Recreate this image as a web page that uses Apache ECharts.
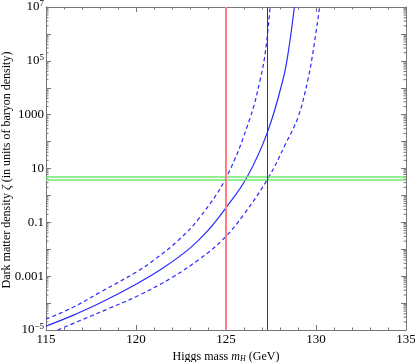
<!DOCTYPE html>
<html>
<head>
<meta charset="utf-8">
<script src="https://cdn.jsdelivr.net/npm/echarts/dist/echarts.min.js"></script>
<style>
  html, body { margin: 0; padding: 0; background: #fff; }
  #chart { width: 415px; height: 362px; }
</style>
</head>
<body>
<div id="chart"></div>
<script>
// Higgs mass (GeV) vs dark matter density zeta
const massCentral = [115, 116.5, 118, 120, 121.5, 123, 124, 125, 126.15, 127.3, 128.2, 128.5, 128.8]
const zetaCentral = [1.4e-5, 3.5e-5, 1.0e-4, 5.0e-4, 2.0e-3, 0.011, 0.05, 0.35, 4.5, 220, 2.5e4, 3.2e5, 1e7]

const massUpper = [115, 116.5, 118, 120, 121, 122.3, 123.5, 125, 126.3, 126.9, 127.2, 127.45]
const zetaUpper = [2.5e-5, 7e-5, 2.5e-4, 1.4e-3, 4.0e-3, 0.02, 0.14, 4.5, 630, 2e4, 2.5e5, 1e7]

const massLower = [115.65, 117, 118.5, 120.2, 122, 123.5, 124.8, 126, 127.35, 128.3, 129, 129.55, 129.85, 130.2]
const zetaLower = [1e-5, 2.4e-5, 6.3e-5, 2e-4, 8.9e-4, 4.2e-3, 0.022, 0.2, 4.5, 80, 800, 2e4, 2.5e5, 1e7]

// vertical markers (GeV) and the observed density band
const higgsMeasured = 125
const higgsBound = 127.3
const zetaBand = [3.8, 4.8]

// axis ranges
const xMin = 115, xMax = 135
const yMin = 1e-5, yMax = 1e7

const font = 'Liberation Serif'
const frameColor = '#777'
const blue = '#2a2aff'

// log minor ticks 2..9 in every decade
const minorTicks = []
for (let d = -5; d < 7; d++) {
  for (let k = 2; k <= 9; k++) minorTicks.push(k * Math.pow(10, d))
}

const pairs = (xs, ys) => xs.map((x, i) => [x, ys[i]])

// labels every second decade, plain numbers in the middle
const yLabel = (v) => {
  const e = Math.round(Math.log10(v))
  if ((e + 5) % 2 !== 0) return ''
  if (e >= -3 && e <= 3) return String(e < 0 ? v.toFixed(-e) : Math.round(v))
  return '{b|10}{s|' + String(e).replace('-', '\u2212') + '}'
}

const chart = echarts.init(document.getElementById('chart'))

const baseX = {
  type: 'value', min: xMin, max: xMax, interval: 5,
  axisLine: { show: true, lineStyle: { color: frameColor, width: 1 } },
  axisTick: { show: true, inside: true, length: 5, lineStyle: { color: frameColor } },
  minorTick: { show: true, splitNumber: 5, length: 2.5, lineStyle: { color: frameColor } },
  splitLine: { show: false },
  minorSplitLine: { show: false }
}
const baseY = {
  type: 'log', logBase: 10, min: yMin, max: yMax, interval: 1,
  axisLine: { show: true, lineStyle: { color: frameColor, width: 1 } },
  axisTick: { show: true, inside: true, length: 5, lineStyle: { color: frameColor } },
  splitLine: { show: false }
}

const option = {
  backgroundColor: '#fff',
  animation: false,
  grid: { left: 46, right: 9, top: 7, bottom: 32, outerBoundsMode: 'none' },
  // y axis title, rotated, left of the tick labels
  graphic: [{
    type: 'text', x: 7, y: 170, rotation: Math.PI / 2, silent: true,
    style: {
      text: '{n|Dark matter density }{i|\u03b6}{n| (in units of baryon density)}',
      align: 'center', verticalAlign: 'middle',
      rich: {
        n: { fontFamily: font, fontSize: 12, fill: '#000' },
        i: { fontFamily: font, fontSize: 12, fontStyle: 'italic', fill: '#000' }
      }
    }
  }],
  xAxis: [
    {
      ...baseX, position: 'bottom',
      axisLabel: { show: true, margin: 3, color: '#000', fontFamily: font, fontSize: 13 },
      name: '{n|Higgs mass }{i|m}{sub|H}{n| (GeV)}',
      nameLocation: 'middle', nameGap: 16,
      nameTextStyle: {
        color: '#000', fontFamily: font, fontSize: 12,
        rich: {
          n: { fontFamily: font, fontSize: 12, color: '#000' },
          i: { fontFamily: font, fontSize: 12, fontStyle: 'italic', color: '#000' },
          sub: { fontFamily: font, fontSize: 8, fontStyle: 'italic', color: '#000', verticalAlign: 'bottom', padding: [4, 0, 0, 0] }
        }
      }
    },
    { ...baseX, position: 'top', axisLabel: { show: false } }
  ],
  yAxis: [
    {
      ...baseY, position: 'left',
      axisLabel: {
        show: true, margin: 2, color: '#000', fontFamily: font, fontSize: 13,
        formatter: yLabel,
        rich: {
          b: { fontFamily: font, fontSize: 13, color: '#000' },
          s: { fontFamily: font, fontSize: 9, color: '#000', verticalAlign: 'top', padding: [0, 0, 6, 0] }
        }
      }
    },
    { ...baseY, position: 'right', axisLabel: { show: false } }
  ],
  series: [
    {
      // minor log ticks on left and right frame
      type: 'custom', silent: true, clip: false,
      xAxisIndex: 0, yAxisIndex: 0,
      data: minorTicks.map(v => [xMin, v]),
      renderItem: (params, api) => {
        const l = api.coord([xMin, api.value(1)])
        const r = api.coord([xMax, api.value(1)])
        const st = { stroke: frameColor, lineWidth: 1 }
        return {
          type: 'group',
          children: [
            { type: 'line', shape: { x1: l[0], y1: l[1], x2: l[0] + 2.5, y2: l[1] }, style: st },
            { type: 'line', shape: { x1: r[0] - 2.5, y1: r[1], x2: r[0], y2: r[1] }, style: st }
          ]
        }
      }
    },
    {
      type: 'line', data: [], silent: true,
      markLine: {
        silent: true, symbol: 'none', label: { show: false },
        data: zetaBand.map(v => ({ yAxis: v })),
        lineStyle: { color: '#72e872', width: 1.5, type: 'solid' }
      }
    },
    {
      type: 'line', data: [], silent: true,
      markLine: {
        silent: true, symbol: 'none', label: { show: false },
        data: [{ xAxis: higgsMeasured }],
        lineStyle: { color: '#ff8080', width: 2, type: 'solid' }
      }
    },
    {
      type: 'line', data: [], silent: true,
      markLine: {
        silent: true, symbol: 'none', label: { show: false },
        data: [{ xAxis: higgsBound }],
        lineStyle: { color: '#d00000', width: 1, type: 'solid' }
      }
    },
    {
      name: 'central', type: 'line', data: pairs(massCentral, zetaCentral),
      showSymbol: false, smooth: 0.4,
      lineStyle: { color: blue, width: 1.2 }
    },
    {
      name: 'upper', type: 'line', data: pairs(massUpper, zetaUpper),
      showSymbol: false, smooth: 0.4,
      lineStyle: { color: blue, width: 1.2, type: [4, 3] }
    },
    {
      name: 'lower', type: 'line', data: pairs(massLower, zetaLower),
      showSymbol: false, smooth: 0.4,
      lineStyle: { color: blue, width: 1.2, type: [4, 3] }
    }
  ]
}

chart.setOption(option)
</script>
</body>
</html>
